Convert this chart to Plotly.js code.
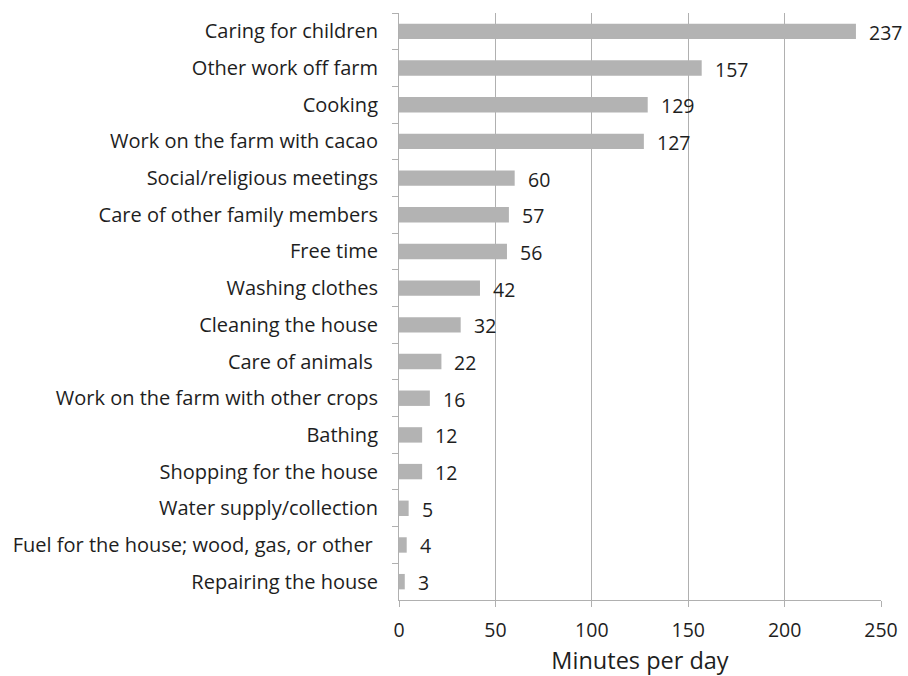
<!DOCTYPE html>
<html>
<head>
<meta charset="utf-8">
<script src="https://cdn.plot.ly/plotly-3.0.1.min.js"></script>
<style>html,body{margin:0;padding:0;background:#fff;}</style>
</head>
<body>
<div id="chart" style="width:908px;height:676px;"></div>
<script>
const categories = [
  "Caring for children",
  "Other work off farm",
  "Cooking",
  "Work on the farm with cacao",
  "Social/religious meetings",
  "Care of other family members",
  "Free time",
  "Washing clothes",
  "Cleaning the house",
  "Care of animals ",
  "Work on the farm with other crops",
  "Bathing",
  "Shopping for the house",
  "Water supply/collection",
  "Fuel for the house; wood, gas, or other ",
  "Repairing the house"
];
const minutes = [237, 157, 129, 127, 60, 57, 56, 42, 32, 22, 16, 12, 12, 5, 4, 3];
const xTicks = [0, 50, 100, 150, 200, 250];

const FONT = "'Open Sans', 'Liberation Sans', sans-serif";
const TXT = "#1e1e1e";

const trace = {
  type: "bar",
  orientation: "h",
  y: categories,
  x: minutes,
  marker: {color: "#b3b3b3", line: {width: 0}},
  width: 0.42,
  hoverinfo: "none"
};

const annotations = categories.map((c, i) => ({
  x: minutes[i], y: c, xref: "x", yref: "y",
  text: String(minutes[i]), showarrow: false,
  xanchor: "left", yanchor: "middle", xshift: 11, yshift: -1,
  font: {family: FONT, size: 19.5, color: TXT}
}));

const layout = {
  width: 908, height: 676,
  margin: {l: 399, r: 27, t: 13, b: 76},
  paper_bgcolor: "#ffffff", plot_bgcolor: "#ffffff",
  showlegend: false,
  xaxis: {
    range: [0, 250],
    tickvals: xTicks,
    ticktext: xTicks.map(String),
    showgrid: true, gridcolor: "#b0b0b0", gridwidth: 1,
    zeroline: false,
    showline: true, linecolor: "#b0b0b0", linewidth: 1,
    ticks: "outside", ticklen: 6, tickcolor: "#b0b0b0",
    ticklabelstandoff: 7,
    tickfont: {family: FONT, size: 19.5, color: TXT},
    title: {text: "Minutes per day", font: {family: FONT, size: 23.5, color: TXT}, standoff: 12},
    fixedrange: true
  },
  yaxis: {
    type: "category",
    autorange: "reversed",
    showgrid: false, zeroline: false,
    showline: true, linecolor: "#b0b0b0", linewidth: 1,
    ticks: "outside", tickson: "boundaries", ticklen: 6, tickcolor: "#b0b0b0",
    ticklabelstandoff: 16,
    tickfont: {family: FONT, size: 20, color: TXT},
    fixedrange: true
  },
  annotations: annotations
};

Plotly.newPlot("chart", [trace], layout, {staticPlot: true, displayModeBar: false});
</script>
</body>
</html>
